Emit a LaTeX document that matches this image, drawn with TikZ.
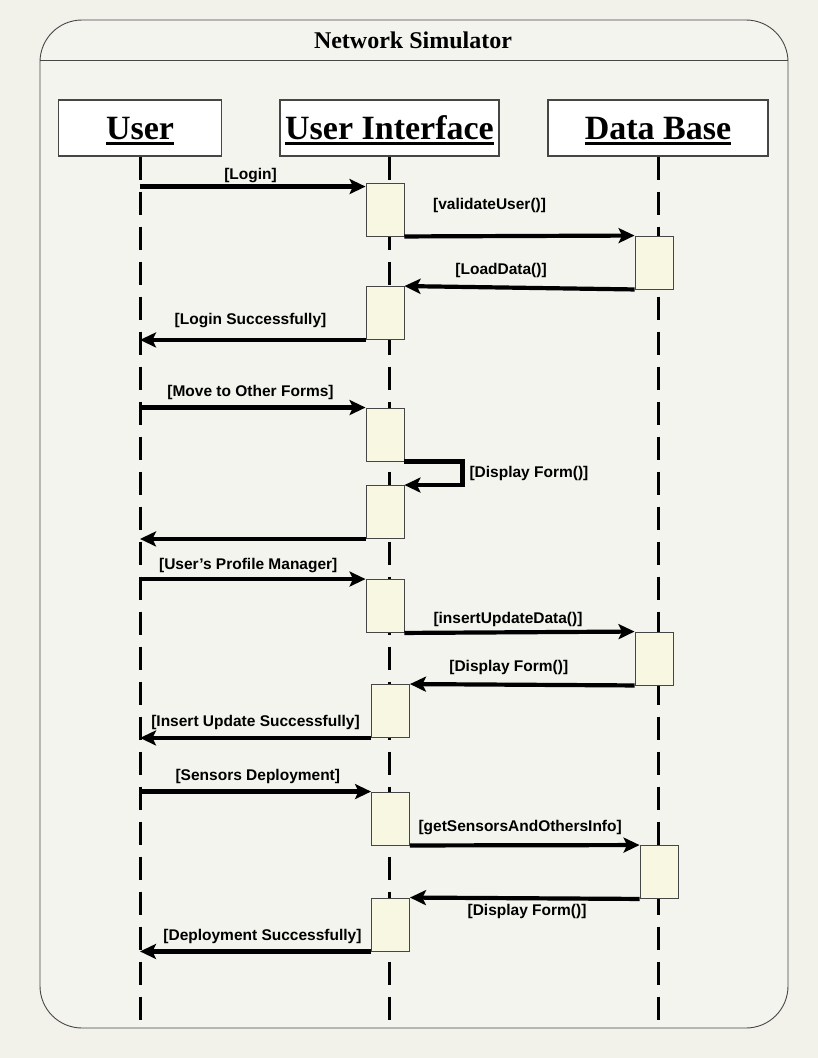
\documentclass[tikz,border=0pt]{standalone}
\usepackage{fontspec}
\setmainfont{Liberation Serif}
\setsansfont{Liberation Sans}
\usepackage{tikz}
\usetikzlibrary{positioning}
\usetikzlibrary{arrows.meta}
\usetikzlibrary{calc}
\definecolor{paper}{RGB}{242,242,235}
\definecolor{actfill}{RGB}{248,248,226}
\definecolor{edgegray}{RGB}{70,70,70}
\newcommand{\headul}[1]{\vtop{\hbox{#1}\kern3pt\hrule height 2.5pt}}
\tikzset{head node/.style={draw=edgegray,line width=1.3pt,fill=white,minimum height=56pt,inner sep=0pt,text height=22pt,text depth=0pt,font=\fontsize{34}{36}\selectfont\bfseries},
  act node/.style={draw=edgegray,line width=0.9pt,fill=actfill,minimum width=38pt,minimum height=53pt,inner sep=0pt},
  msg/.style={line width=4.2pt,-{Stealth[length=16pt,width=15pt,inset=3.5pt]}},
  lbl/.style={font=\fontsize{15.5}{18}\selectfont\sffamily\bfseries,inner sep=1pt},
  life/.style={line width=3pt,dash pattern=on 23pt off 12pt},}

\begin{document}
\begin{tikzpicture}[x=1pt,y=-1pt]
    % frame
    \fill[paper] (0,0) rectangle (818,1058);
    \draw[edgegray,fill=paper!85!white,line width=0.9pt,rounded corners=42pt] (40,20) rectangle (788,1028);
    \draw[edgegray,line width=0.9pt] (40,60) -- (788,60);
    \node[font=\fontsize{24}{26}\selectfont\bfseries] (title) at (413,40) {Network Simulator};

    % lifelines
    \node[head node,minimum width=163pt] (user) at (140,128) {\headul{User}};
    \node[head node,minimum width=219pt] (ui) at (389.5,128) {\headul{User Interface}};
    \node[head node,minimum width=220pt] (db) at (658,128) {\headul{Data Base}};
    \coordinate (userend) at (140,1024);
    \coordinate (uiend) at (389.5,1024);
    \coordinate (dbend) at (658,1024);
    \draw[life] (user.south) -- (userend);
    \draw[life] (ui.south) -- (uiend);
    \draw[life] (db.south) -- (dbend);

    % activations
    \node[act node] (a1) at (385,209.5) {};
    \node[act node] (a2) at (654,262.5) {};
    \node[act node] (a3) at (385,313) {};
    \node[act node] (a4) at (385,434.5) {};
    \node[act node] (a5) at (385,512) {};
    \node[act node] (a6) at (385,606) {};
    \node[act node] (a7) at (654,658.5) {};
    \node[act node] (a8) at (390.5,711) {};
    \node[act node] (a9) at (390.5,818.5) {};
    \node[act node] (a10) at (659,872) {};
    \node[act node] (a11) at (390.5,924.5) {};

    % messages
    \coordinate (login) at ([yshift=-4pt]a1.north west);
    \draw[msg] (user |- login) -- node[lbl,above=1pt,pos=0.49] {[Login]} (login);
    \draw[msg] (a1.south east) -- node[lbl,above=20pt,pos=0.37] {[validateUser()]} (a2.north west);
    \draw[msg] (a2.south west) -- node[lbl,above=7pt,pos=0.58] {[LoadData()]} (a3.north east);
    \draw[msg] (a3.south west) -- node[lbl,above=9pt,pos=0.51] {[Login Successfully]} (user |- a3.south west);

    \draw[msg] (user |- a4.north west) -- node[lbl,above=5pt,pos=0.49] {[Move to Other Forms]} (a4.north west);
    \draw[msg] (a4.south east) -- ++(58,0) |- node[lbl,right,pos=0.25,xshift=4pt] {[Display Form()]} (a5.north east);
    \draw[msg] (a5.south west) -- (user |- a5.south west);

    \draw[msg] (user |- a6.north west) -- node[lbl,above=3pt,pos=0.48] {[User’s Profile Manager]} (a6.north west);
    \draw[msg] (a6.south east) -- node[lbl,above=3pt,pos=0.45] {[insertUpdateData()]} (a7.north west);
    \draw[msg] (a7.south west) -- node[lbl,above=7pt,pos=0.56] {[Display Form()]} (a8.north east);
    \draw[msg] (a8.south west) -- node[lbl,above=5pt,pos=0.5] {[Insert Update Successfully]} (user |- a8.south west);

    \draw[msg] (user |- a9.north west) -- node[lbl,above=5pt,pos=0.51] {[Sensors Deployment]} (a9.north west);
    \draw[msg] (a9.south east) -- node[lbl,above=7pt,pos=0.48] {[getSensorsAndOthersInfo]} (a10.north west);
    \draw[msg] (a10.south west) -- node[lbl,below=3pt,pos=0.49] {[Display Form()]} (a11.north east);
    \draw[msg] (a11.south west) -- node[lbl,above=5pt,pos=0.47] {[Deployment Successfully]} (user |- a11.south west);
\end{tikzpicture}
\end{document}
